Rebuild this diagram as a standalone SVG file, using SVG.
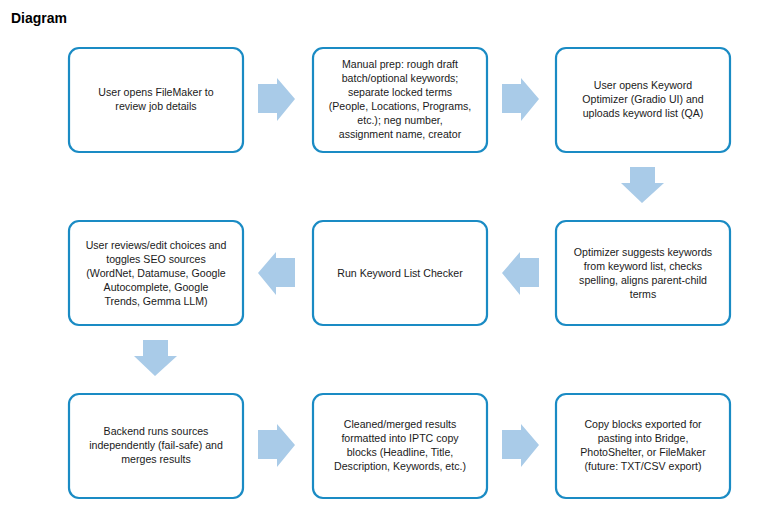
<svg xmlns="http://www.w3.org/2000/svg" width="773" height="514" viewBox="0 0 773 514">
<style>
.b{fill:#fff;stroke:#1a8bc4;stroke-width:2.2}
.a{fill:#a9cbe8}
text{font-family:"Liberation Sans",Arial,sans-serif;font-size:10.6px;fill:#1a1a1a;text-anchor:middle}
.t{font-size:14px;font-weight:bold;text-anchor:start;fill:#000}
</style>
<rect width="773" height="514" fill="#fff"/>
<text class="t" x="11" y="23">Diagram</text>
<g id="connectors">
<polygon class="a" points="258,84 277,84 277,78 295,99 277,121 277,113 258,113"/>
<polygon class="a" points="502,84 521,84 521,78 539,99 521,121 521,113 502,113"/>
<polygon class="a" points="630,167 655,167 655,183 664,183 642,203 621,183 630,183"/>
<polygon class="a" points="539,258 520,258 520,252 502,273 520,295 520,287 539,287"/>
<polygon class="a" points="295,258 276,258 276,252 258,273 276,295 276,287 295,287"/>
<polygon class="a" points="143,340 168,340 168,356 177,356 155,376 134,356 143,356"/>
<polygon class="a" points="258,430 277,430 277,424 295,445 277,467 277,459 258,459"/>
<polygon class="a" points="502,430 521,430 521,424 539,445 521,467 521,459 502,459"/>
</g>
<g id="n1"><rect class="b" x="69" y="48" width="174" height="104" rx="10"/><text x="156" y="96">User opens FileMaker to</text><text x="156" y="110">review job details</text></g>
<g id="n2"><rect class="b" x="313" y="48" width="174" height="104" rx="10"/><text x="400" y="68">Manual prep: rough draft</text><text x="400" y="82">batch/optional keywords;</text><text x="400" y="96">separate locked terms</text><text x="400" y="110">(People, Locations, Programs,</text><text x="400" y="124">etc.); neg number,</text><text x="400" y="138">assignment name, creator</text></g>
<g id="n3"><rect class="b" x="556" y="48" width="174" height="104" rx="10"/><text x="643" y="89">User opens Keyword</text><text x="643" y="103">Optimizer (Gradio UI) and</text><text x="643" y="117">uploads keyword list (QA)</text></g>
<g id="n4"><rect class="b" x="556" y="221" width="174" height="104" rx="10"/><text x="643" y="256">Optimizer suggests keywords</text><text x="643" y="270">from keyword list, checks</text><text x="643" y="284">spelling, aligns parent-child</text><text x="643" y="298">terms</text></g>
<g id="n5"><rect class="b" x="313" y="221" width="174" height="104" rx="10"/><text x="400" y="277">Run Keyword List Checker</text></g>
<g id="n6"><rect class="b" x="69" y="221" width="174" height="104" rx="10"/><text x="156" y="249">User reviews/edit choices and</text><text x="156" y="263">toggles SEO sources</text><text x="156" y="277">(WordNet, Datamuse, Google</text><text x="156" y="291">Autocomplete, Google</text><text x="156" y="305">Trends, Gemma LLM)</text></g>
<g id="n7"><rect class="b" x="69" y="394" width="174" height="104" rx="10"/><text x="156" y="435">Backend runs sources</text><text x="156" y="449">independently (fail-safe) and</text><text x="156" y="463">merges results</text></g>
<g id="n8"><rect class="b" x="313" y="394" width="174" height="104" rx="10"/><text x="400" y="428">Cleaned/merged results</text><text x="400" y="442">formatted into IPTC copy</text><text x="400" y="456">blocks (Headline, Title,</text><text x="400" y="470">Description, Keywords, etc.)</text></g>
<g id="n9"><rect class="b" x="556" y="394" width="174" height="104" rx="10"/><text x="643" y="428">Copy blocks exported for</text><text x="643" y="442">pasting into Bridge,</text><text x="643" y="456">PhotoShelter, or FileMaker</text><text x="643" y="470">(future: TXT/CSV export)</text></g>
</svg>
